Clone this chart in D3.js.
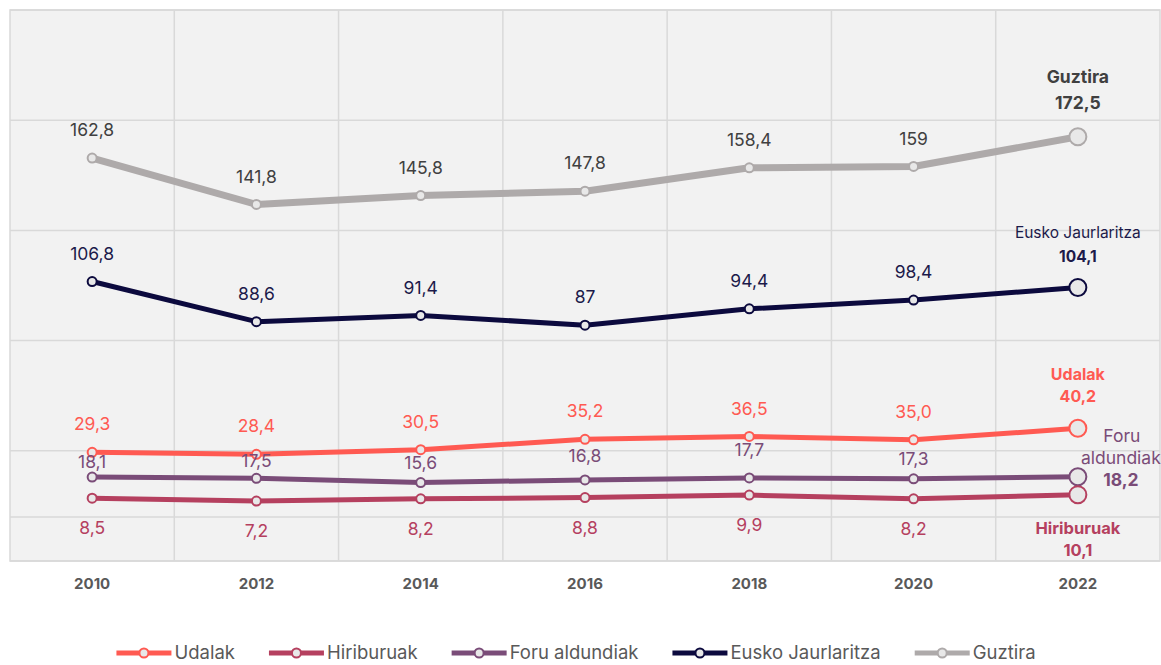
<!DOCTYPE html>
<html>
<head>
<meta charset="utf-8">
<script src="https://cdn.jsdelivr.net/npm/d3@7"></script>
<style>
  html, body { margin: 0; padding: 0; background: #fff; }
  svg { display: block; font-family: Inter, "Open Sans", sans-serif; }
</style>
</head>
<body>
<div id="chart"></div>
<script>
// ---- Data ----
const years = ["2010", "2012", "2014", "2016", "2018", "2020", "2022"];

const udalak      = [29.3, 28.4, 30.5, 35.2, 36.5, 35.0, 40.2];
const hiriburuak  = [8.5, 7.2, 8.2, 8.8, 9.9, 8.2, 10.1];
const foru        = [18.1, 17.5, 15.6, 16.8, 17.7, 17.3, 18.2];
const eusko       = [106.8, 88.6, 91.4, 87, 94.4, 98.4, 104.1];
const guztira     = [162.8, 141.8, 145.8, 147.8, 158.4, 159, 172.5];

const udalakLabels     = ["29,3", "28,4", "30,5", "35,2", "36,5", "35,0", "40,2"];
const hiriburuakLabels = ["8,5", "7,2", "8,2", "8,8", "9,9", "8,2", "10,1"];
const foruLabels       = ["18,1", "17,5", "15,6", "16,8", "17,7", "17,3", "18,2"];
const euskoLabels      = ["106,8", "88,6", "91,4", "87", "94,4", "98,4", "104,1"];
const guztiraLabels    = ["162,8", "141,8", "145,8", "147,8", "158,4", "159", "172,5"];

// Value axis: Excel-style min -20, major unit 50
const yTicks = [-20, 30, 80, 130, 180, 230];

const W = 1161, H = 665;
const plot = { left: 10, right: 1160, top: 10, bottom: 561 };

// Series in legend order; each carries its own look
const series = [
  { name: "Udalak", values: udalak, labels: udalakLabels, color: "#FF5A52", text: "#FF5A52", width: 5, pos: "above" },
  { name: "Hiriburuak", values: hiriburuak, labels: hiriburuakLabels, color: "#B5405F", text: "#B5405F", width: 5, pos: "below" },
  { name: "Foru aldundiak", values: foru, labels: foruLabels, color: "#7A4C78", text: "#7A4C78", width: 5, pos: "above" },
  { name: "Eusko Jaurlaritza", values: eusko, labels: euskoLabels, color: "#0C0A3E", text: "#1C1A4A", width: 5, pos: "above" },
  { name: "Guztira", values: guztira, labels: guztiraLabels, color: "#AEAAAA", text: "#404040", width: 7, pos: "above" }
];

// Foru labels were nudged by hand in the original, sitting closer to the line
const foruDy = [-15, -17, -20, -24, -28, -20];

const svg = d3.select("#chart").append("svg")
  .attr("width", W).attr("height", H)
  .attr("viewBox", `0 0 ${W} ${H}`);

const x = d3.scaleBand()
  .domain(years)
  .range([plot.left, plot.right]);

const y = d3.scaleLinear()
  .domain([-20, 230])
  .range([plot.bottom, plot.top]);

const cx = d => x(d) + x.bandwidth() / 2;

// ---- Plot background + grid ----
svg.append("rect")
  .attr("x", plot.left).attr("y", plot.top)
  .attr("width", plot.right - plot.left).attr("height", plot.bottom - plot.top)
  .attr("fill", "#F2F2F2");

svg.append("g").selectAll("line")
  .data(yTicks)
  .join("line")
  .attr("x1", plot.left).attr("x2", plot.right)
  .attr("y1", d => y(d)).attr("y2", d => y(d))
  .attr("stroke", "#D9D9D9").attr("stroke-width", 1.5);

// vertical gridlines between categories
svg.append("g").selectAll("line")
  .data(years.slice(1))
  .join("line")
  .attr("x1", d => x(d)).attr("x2", d => x(d))
  .attr("y1", plot.top).attr("y2", plot.bottom)
  .attr("stroke", "#D9D9D9").attr("stroke-width", 1.5);

// outer border
svg.append("rect")
  .attr("x", plot.left).attr("y", plot.top)
  .attr("width", plot.right - plot.left).attr("height", plot.bottom - plot.top)
  .attr("fill", "none").attr("stroke", "#D9D9D9").attr("stroke-width", 1.5);

// horizontal category axis crosses at 0
svg.append("line")
  .attr("x1", plot.left).attr("x2", plot.right)
  .attr("y1", y(0)).attr("y2", y(0))
  .attr("stroke", "#D9D9D9").attr("stroke-width", 1.5);

// ---- X axis labels ----
const xAxis = svg.append("g")
  .attr("transform", `translate(0,${plot.bottom + 23})`)
  .call(d3.axisBottom(x).tickSize(0).tickPadding(0));
xAxis.select(".domain").remove();
xAxis.selectAll("text")
  .attr("dy", "0.35em")
  .attr("font-family", "Inter, sans-serif")
  .attr("font-size", 15)
  .attr("font-weight", 700)
  .attr("fill", "#595959");

// ---- Lines + markers ----
const line = d3.line()
  .x((d, i) => cx(years[i]))
  .y(d => y(d));

const drawOrder = [4, 3, 0, 2, 1];
const gLines = svg.append("g");

drawOrder.forEach(k => {
  const s = series[k];
  const g = gLines.append("g");
  g.append("path")
    .attr("d", line(s.values))
    .attr("fill", "none")
    .attr("stroke", s.color)
    .attr("stroke-width", s.width)
    .attr("stroke-linejoin", "round");

  g.selectAll("circle")
    .data(s.values)
    .join("circle")
    .attr("cx", (d, i) => cx(years[i]))
    .attr("cy", d => y(d))
    .attr("r", (d, i) => i === years.length - 1 ? 8.5 : 4.5)
    .attr("fill", "#E8E8E8")
    .attr("stroke", s.color)
    .attr("stroke-width", 2);
});

// ---- Data labels (all but the last year) ----
const gLabels = svg.append("g")
  .attr("font-size", 17.5)
  .attr("text-anchor", "middle");

series.forEach(s => {
  gLabels.selectAll(null)
    .data(s.values.slice(0, -1))
    .join("text")
    .attr("x", (d, i) => cx(years[i]))
    .attr("y", (d, i) => {
      if (s.name === "Foru aldundiak") return y(d) + foruDy[i];
      return s.pos === "below" ? y(d) + 30 : y(d) - 28;
    })
    .attr("dy", "0.35em")
    .attr("fill", s.text)
    .text((d, i) => s.labels[i]);
});

// ---- End-of-line labels (series name + last value) ----
const last = years.length - 1;
const lastX = cx(years[last]);

function endLabel(s, lines) {
  lines.forEach(l => {
    gLabels.append("text")
      .attr("x", l.x !== undefined ? l.x : lastX)
      .attr("y", y(s.values[last]) + l.dy)
      .attr("dy", "0.35em")
      .attr("font-size", l.size || 17.5)
      .attr("font-weight", l.bold ? 700 : 400)
      .attr("fill", s.text)
      .text(l.text);
  });
}

endLabel(series[4], [
  { text: "Guztira", dy: -60, bold: true },
  { text: guztiraLabels[last], dy: -34, bold: true }
]);
endLabel(series[3], [
  { text: "Eusko Jaurlaritza", dy: -55, size: 15.5 },
  { text: euskoLabels[last], dy: -31, bold: true, size: 15.5 }
]);
endLabel(series[0], [
  { text: "Udalak", dy: -54, bold: true, size: 16 },
  { text: udalakLabels[last], dy: -32, bold: true, size: 16 }
]);
endLabel(series[2], [
  { text: "Foru", dy: -41, x: lastX + 44 },
  { text: "aldundiak", dy: -19, x: lastX + 43 },
  { text: foruLabels[last], dy: 3, x: lastX + 43, bold: true }
]);
endLabel(series[1], [
  { text: "Hiriburuak", dy: 34, bold: true, size: 16.5 },
  { text: hiriburuakLabels[last], dy: 56, bold: true, size: 16.5 }
]);

// ---- Legend ----
const legend = svg.append("g").attr("transform", "translate(0,653)");
const items = legend.selectAll("g")
  .data(series)
  .join("g");

items.append("line")
  .attr("x1", 0).attr("x2", 55)
  .attr("stroke", d => d.color)
  .attr("stroke-width", 5);
items.append("circle")
  .attr("cx", 27.5).attr("r", 4.5)
  .attr("fill", "#E8E8E8")
  .attr("stroke", d => d.color)
  .attr("stroke-width", 2);
items.append("text")
  .attr("x", 58)
  .attr("dy", "0.35em")
  .attr("font-size", 18.5)
  .attr("fill", "#595959")
  .text(d => d.name);

// Position legend items side by side and center the row
let offset = 0;
const starts = [];
items.each(function() {
  const tw = d3.select(this).select("text").node().getComputedTextLength();
  starts.push(offset);
  offset += 58 + tw + 34;
});
const total = offset - 34;
const left0 = 576 - total / 2;
items.attr("transform", (d, i) => `translate(${left0 + starts[i]},0)`);
</script>
</body>
</html>
